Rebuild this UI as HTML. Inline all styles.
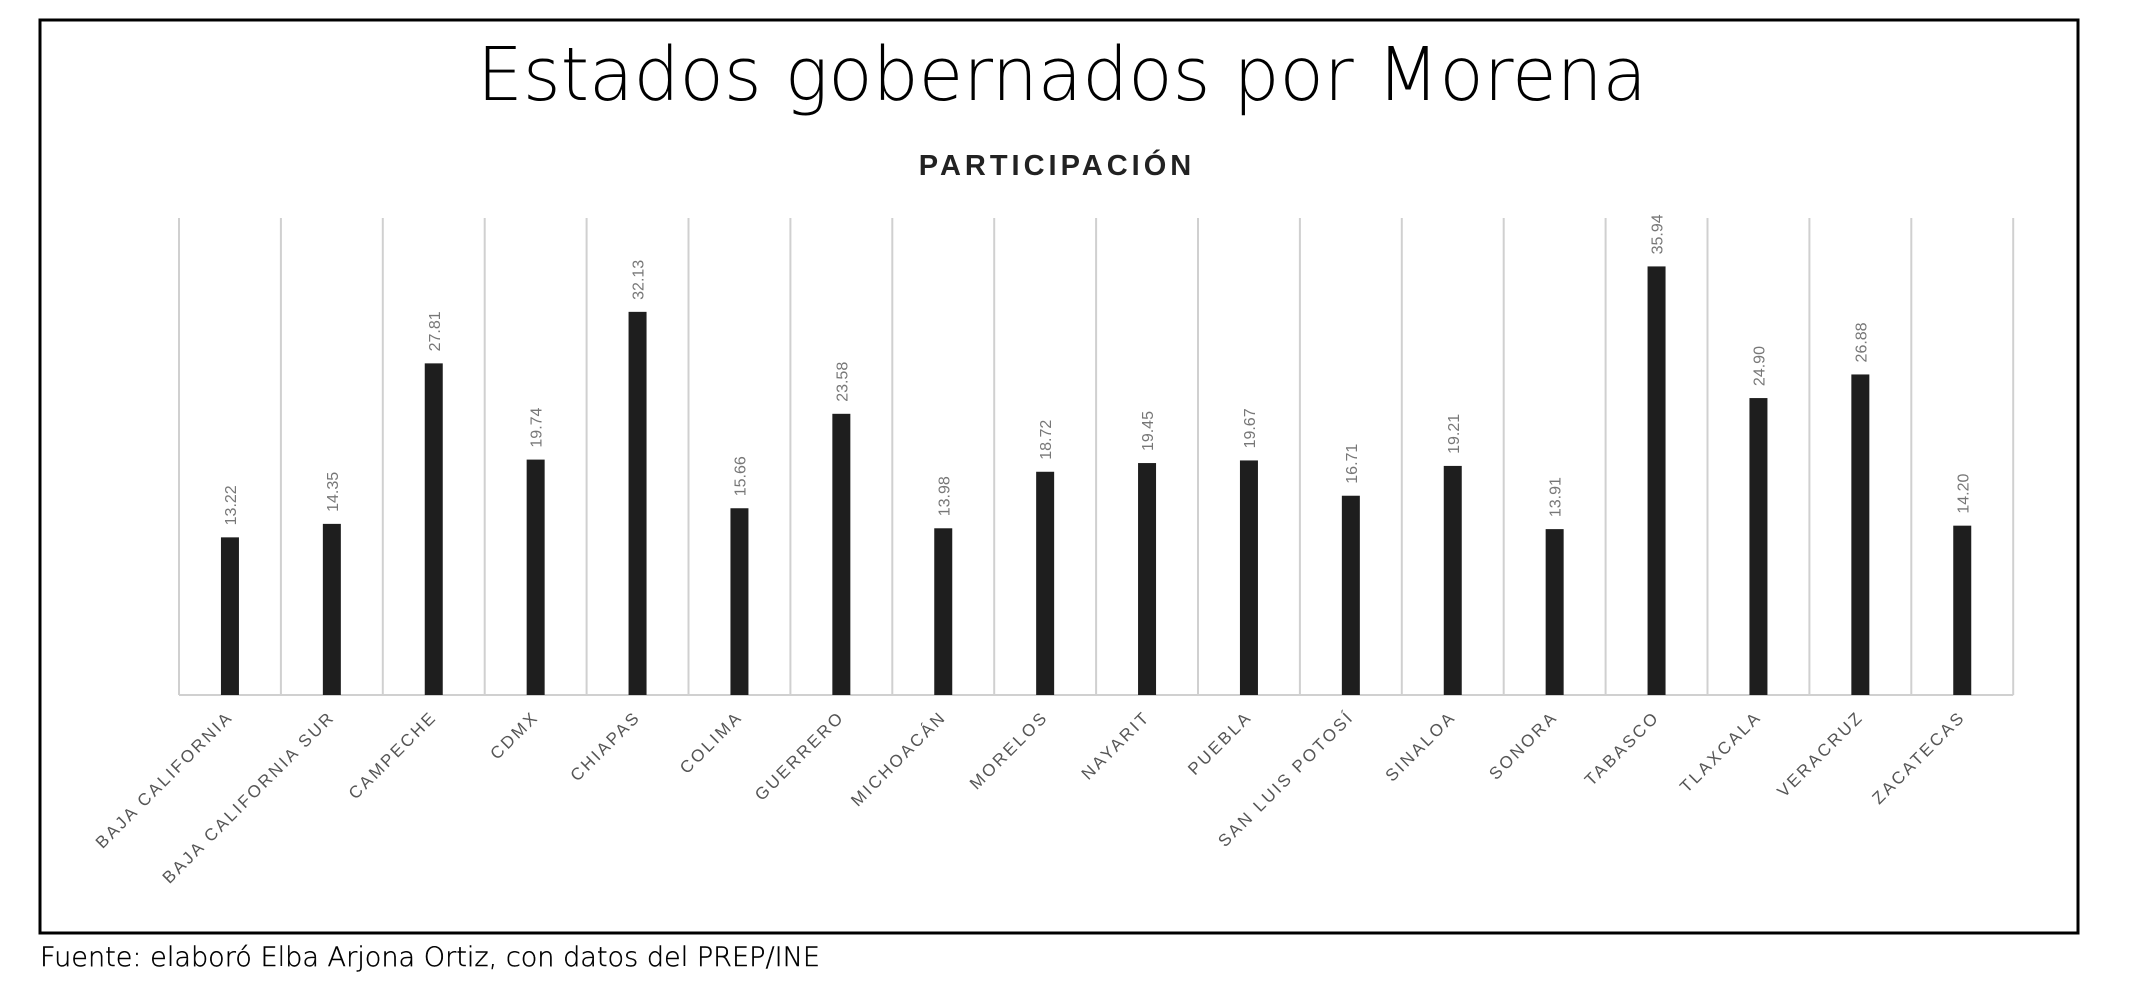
<!DOCTYPE html>
<html><head><meta charset="utf-8"><style>
html,body{margin:0;padding:0;background:#fff;}
svg{display:block}
</style></head><body>
<svg width="2134" height="989" xmlns="http://www.w3.org/2000/svg">
<rect x="40" y="20" width="2038" height="913" fill="#fff" stroke="#000" stroke-width="3"/>
<text x="1062" y="100" text-anchor="middle" font-family="DejaVu Sans, Liberation Sans, sans-serif" font-weight="200" font-size="74" fill="#000" textLength="1170" lengthAdjust="spacingAndGlyphs">Estados gobernados por Morena</text>
<text x="1057" y="175" text-anchor="middle" font-family="Liberation Sans, sans-serif" font-weight="bold" font-size="29" letter-spacing="4" fill="#222">PARTICIPACIÓN</text>
<g id="chart"></g>
<text x="40" y="966" font-family="DejaVu Sans, Liberation Sans, sans-serif" font-weight="200" font-size="27" fill="#000" stroke="#000" stroke-width="0.4" textLength="780" lengthAdjust="spacingAndGlyphs">Fuente: elaboró Elba Arjona Ortiz, con datos del PREP/INE</text>
</svg>
<script>
var names=["BAJA CALIFORNIA","BAJA CALIFORNIA SUR","CAMPECHE","CDMX","CHIAPAS","COLIMA","GUERRERO","MICHOACÁN","MORELOS","NAYARIT","PUEBLA","SAN LUIS POTOSÍ","SINALOA","SONORA","TABASCO","TLAXCALA","VERACRUZ","ZACATECAS"];
var vals=[13.22,14.35,27.81,19.74,32.13,15.66,23.58,13.98,18.72,19.45,19.67,16.71,19.21,13.91,35.94,24.90,26.88,14.20];
var g=document.getElementById('chart'),s='';
var x0=179,w=101.9,base=695,yTop=218,k=(base-yTop)/40;
for(var i=0;i<=18;i++){var x=x0+i*w;s+='<line x1="'+x+'" y1="'+yTop+'" x2="'+x+'" y2="'+base+'" stroke="#d0d0d0" stroke-width="2"/>';}
s+='<line x1="'+x0+'" y1="'+base+'" x2="'+(x0+18*w)+'" y2="'+base+'" stroke="#d0d0d0" stroke-width="2"/>';
for(var i=0;i<18;i++){
 var cx=x0+(i+0.5)*w,h=vals[i]*k,yt=base-h;
 s+='<rect x="'+(cx-9)+'" y="'+yt+'" width="18" height="'+h+'" fill="#1e1e1e"/>';
 s+='<text transform="translate('+(cx+6)+','+(yt-12)+') rotate(-90)" font-family="Liberation Sans, sans-serif" font-size="16" fill="#777">'+vals[i].toFixed(2)+'</text>';
 s+='<text transform="translate('+(cx+4)+','+718+') rotate(-45)" text-anchor="end" font-family="Liberation Sans, sans-serif" font-size="17" letter-spacing="2.5" fill="#555">'+names[i]+'</text>';
}
g.innerHTML=s;
</script>
</body></html>
